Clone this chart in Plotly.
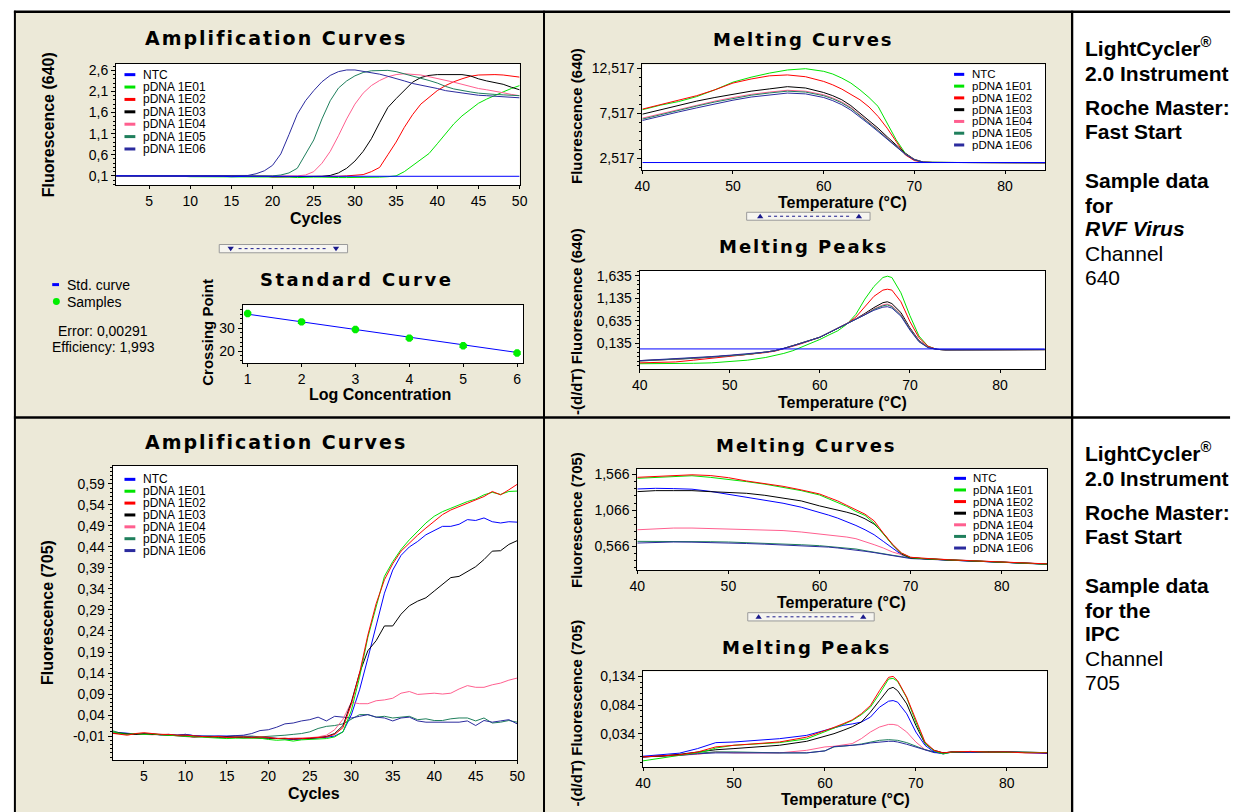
import plotly.graph_objects as go

W, H = 1243, 812
FONT = "Liberation Sans, Arial, sans-serif"
TFONT = "DejaVu Sans, Verdana, sans-serif"
BEIGE = "#ece9d8"

# ---------------- data ----------------
SERIES = ["NTC", "pDNA 1E01", "pDNA 1E02", "pDNA 1E03", "pDNA 1E04", "pDNA 1E05", "pDNA 1E06"]
COLORS = ["#0000ff", "#00e400", "#ff0000", "#000000", "#ff5f8f", "#1f7f5c", "#2b2b9e"]

CYCLES = list(range(1, 51))

AMP640_NTC = [0.10, 0.10, 0.10, 0.10, 0.10, 0.10, 0.10, 0.10, 0.10, 0.09,
              0.09, 0.09, 0.09, 0.09, 0.08, 0.09, 0.09, 0.09, 0.09, 0.09,
              0.09, 0.09, 0.09, 0.09, 0.09, 0.09, 0.09, 0.09, 0.09, 0.09,
              0.09, 0.09, 0.09, 0.09, 0.09, 0.09, 0.09, 0.09, 0.09, 0.09,
              0.09, 0.09, 0.09, 0.09, 0.09, 0.10, 0.09, 0.09, 0.09, 0.09]
AMP640_E01 = [0.10, 0.10, 0.10, 0.10, 0.10, 0.10, 0.10, 0.10, 0.09, 0.08,
              0.08, 0.08, 0.08, 0.08, 0.07, 0.08, 0.08, 0.08, 0.08, 0.07,
              0.07, 0.07, 0.06, 0.07, 0.07, 0.07, 0.06, 0.06, 0.06, 0.06,
              0.06, 0.07, 0.07, 0.08, 0.10, 0.20, 0.35, 0.48, 0.63, 0.86,
              1.10, 1.33, 1.52, 1.68, 1.82, 1.92, 2.01, 2.09, 2.17, 2.24]
AMP640_E02 = [0.10, 0.10, 0.10, 0.10, 0.10, 0.10, 0.10, 0.10, 0.10, 0.09,
              0.09, 0.10, 0.10, 0.09, 0.09, 0.09, 0.09, 0.09, 0.09, 0.08,
              0.08, 0.08, 0.08, 0.09, 0.09, 0.09, 0.09, 0.09, 0.10, 0.11,
              0.13, 0.20, 0.30, 0.60, 0.90, 1.25, 1.55, 1.80, 1.96, 2.12,
              2.24, 2.33, 2.40, 2.46, 2.49, 2.50, 2.50, 2.49, 2.47, 2.44]
AMP640_E03 = [0.10, 0.10, 0.10, 0.10, 0.10, 0.10, 0.10, 0.10, 0.10, 0.09,
              0.09, 0.09, 0.09, 0.09, 0.09, 0.09, 0.09, 0.09, 0.09, 0.08,
              0.08, 0.08, 0.09, 0.09, 0.09, 0.09, 0.11, 0.17, 0.28, 0.45,
              0.68, 0.98, 1.36, 1.72, 1.93, 2.13, 2.32, 2.43, 2.48, 2.50,
              2.50, 2.50, 2.50, 2.47, 2.40, 2.35, 2.31, 2.27, 2.20, 2.14]
AMP640_E04 = [0.10, 0.10, 0.10, 0.10, 0.10, 0.10, 0.10, 0.10, 0.10, 0.09,
              0.09, 0.09, 0.09, 0.09, 0.09, 0.09, 0.09, 0.09, 0.09, 0.09,
              0.09, 0.09, 0.10, 0.12, 0.20, 0.40, 0.68, 1.05, 1.45, 1.80,
              2.06, 2.24, 2.36, 2.45, 2.50, 2.52, 2.51, 2.49, 2.45, 2.41,
              2.37, 2.32, 2.27, 2.22, 2.17, 2.14, 2.11, 2.07, 2.03, 2.00]
AMP640_E05 = [0.10, 0.10, 0.10, 0.10, 0.10, 0.10, 0.10, 0.10, 0.10, 0.09,
              0.09, 0.09, 0.09, 0.09, 0.09, 0.09, 0.09, 0.09, 0.10, 0.10,
              0.12, 0.17, 0.28, 0.60, 0.95, 1.45, 1.88, 2.18, 2.35, 2.47,
              2.55, 2.59, 2.60, 2.60, 2.57, 2.52, 2.47, 2.42, 2.36, 2.30,
              2.22, 2.16, 2.12, 2.09, 2.06, 2.04, 2.03, 2.02, 2.01, 2.00]
AMP640_E06 = [0.10, 0.10, 0.10, 0.10, 0.10, 0.10, 0.10, 0.10, 0.10, 0.10,
              0.10, 0.10, 0.10, 0.10, 0.10, 0.10, 0.11, 0.15, 0.22, 0.35,
              0.62, 1.08, 1.56, 1.88, 2.12, 2.33, 2.48, 2.57, 2.61, 2.61,
              2.58, 2.55, 2.51, 2.46, 2.41, 2.35, 2.29, 2.25, 2.22, 2.17,
              2.12, 2.09, 2.07, 2.04, 2.01, 2.00, 1.99, 1.97, 1.96, 1.95]

STD_LOGC = [1, 2, 3, 4, 5, 6]
STD_LINE = [36.0, 32.7, 29.5, 26.0, 22.7, 19.5]
STD_SAMPLES = [36.3, 32.7, 29.4, 25.7, 22.4, 19.3]

T_MC640 = [40, 42, 44, 46, 48, 50, 52, 54, 56, 58, 60, 61, 62, 63, 64, 65, 66, 67, 68, 69,
           70, 71, 72, 74, 76, 78, 80, 82, 84.5]
MC640_NTC = [2.04, 2.04, 2.04, 2.04, 2.04, 2.04, 2.04, 2.04, 2.04, 2.04, 2.04, 2.04, 2.04, 2.04, 2.04,
             2.04, 2.04, 2.04, 2.04, 2.04, 2.04, 2.04, 2.04, 2.04, 2.04, 2.04, 2.04, 2.04, 2.04]
MC640_E01 = [7.89, 8.40, 8.80, 9.35, 10.10, 10.95, 11.50, 11.95, 12.30, 12.44, 12.15, 11.85, 11.40, 10.85,
             10.10, 9.25, 8.26, 6.40, 4.55, 3.07, 2.33, 2.08, 2.05, 2.05, 2.04, 2.04, 2.03, 2.03, 2.02]
MC640_E02 = [7.96, 8.45, 8.90, 9.45, 10.10, 10.85, 11.30, 11.65, 11.75, 11.55, 11.03, 10.65, 10.18, 9.60,
             9.00, 8.20, 7.15, 5.85, 4.37, 2.89, 2.26, 2.08, 2.05, 2.05, 2.04, 2.04, 2.03, 2.03, 2.02]
MC640_E03 = [7.40, 7.90, 8.35, 8.85, 9.25, 9.60, 9.95, 10.20, 10.45, 10.30, 9.80, 9.45, 9.00, 8.35,
             7.52, 6.70, 5.85, 4.90, 4.00, 3.07, 2.40, 2.08, 2.05, 2.05, 2.04, 2.04, 2.03, 2.03, 2.02]
MC640_E04 = [6.96, 7.45, 7.95, 8.40, 8.85, 9.25, 9.60, 9.85, 10.05, 9.95, 9.55, 9.20, 8.75, 8.15,
             7.33, 6.50, 5.66, 4.75, 3.85, 3.00, 2.37, 2.08, 2.05, 2.05, 2.04, 2.04, 2.03, 2.03, 2.02]
MC640_E05 = [6.85, 7.35, 7.85, 8.30, 8.75, 9.15, 9.50, 9.75, 9.95, 9.85, 9.45, 9.10, 8.65, 8.05,
             7.25, 6.45, 5.60, 4.70, 3.80, 2.98, 2.36, 2.08, 2.05, 2.05, 2.04, 2.04, 2.03, 2.03, 2.02]
MC640_E06 = [6.70, 7.20, 7.65, 8.10, 8.55, 8.95, 9.30, 9.55, 9.74, 9.65, 9.25, 8.90, 8.45, 7.85,
             7.10, 6.30, 5.48, 4.60, 3.74, 2.95, 2.35, 2.08, 2.05, 2.05, 2.04, 2.04, 2.03, 2.03, 2.02]

T_MP640 = [40, 42, 44, 46, 48, 50, 52, 54, 55, 56, 57, 58, 59, 60, 61, 62, 63, 64, 65, 66, 67, 67.5,
           68, 69, 70, 71, 72, 73, 74, 76, 78, 80, 82, 85]
MP640_NTC = [0.01, 0.01, 0.01, 0.01, 0.01, 0.01, 0.01, 0.01, 0.01, 0.01, 0.01, 0.01, 0.01, 0.01, 0.01,
             0.01, 0.01, 0.01, 0.01, 0.01, 0.01, 0.01, 0.01, 0.01, 0.01, 0.01, 0.01, 0.01, 0.01, 0.01,
             0.01, 0.01, 0.01, 0.01]
MP640_E01 = [-0.32, -0.32, -0.315, -0.31, -0.30, -0.27, -0.24, -0.18, -0.14, -0.09, -0.03, 0.05, 0.13,
             0.22, 0.32, 0.415, 0.56, 0.78, 1.12, 1.40, 1.60, 1.63, 1.60, 1.26, 0.75, 0.30, 0.07, 0.00,
             -0.01, -0.01, -0.01, -0.01, -0.005, -0.005]
MP640_E02 = [-0.30, -0.29, -0.28, -0.24, -0.20, -0.16, -0.12, -0.07, -0.04, 0.01, 0.07, 0.13, 0.20,
             0.27, 0.37, 0.47, 0.57, 0.72, 0.95, 1.18, 1.32, 1.34, 1.32, 1.06, 0.62, 0.26, 0.07, 0.00,
             -0.01, -0.01, -0.01, -0.01, -0.005, -0.005]
MP640_E03 = [-0.25, -0.24, -0.22, -0.20, -0.17, -0.14, -0.11, -0.06, -0.03, 0.02, 0.08, 0.14, 0.20,
             0.27, 0.37, 0.47, 0.57, 0.68, 0.80, 0.93, 1.04, 1.06, 1.02, 0.82, 0.48, 0.20, 0.05, 0.00,
             -0.01, -0.01, -0.01, -0.01, -0.005, -0.005]
MP640_E04 = [-0.26, -0.24, -0.22, -0.20, -0.17, -0.14, -0.11, -0.06, -0.03, 0.02, 0.08, 0.14, 0.20,
             0.27, 0.37, 0.47, 0.57, 0.67, 0.78, 0.90, 0.99, 1.01, 0.97, 0.78, 0.46, 0.19, 0.05, 0.00,
             -0.01, -0.01, -0.01, -0.01, -0.005, -0.005]
MP640_E05 = [-0.26, -0.24, -0.22, -0.20, -0.17, -0.14, -0.11, -0.06, -0.03, 0.02, 0.08, 0.14, 0.20,
             0.27, 0.37, 0.47, 0.57, 0.67, 0.77, 0.89, 0.97, 0.99, 0.95, 0.76, 0.45, 0.18, 0.04, 0.00,
             -0.01, -0.01, -0.01, -0.01, -0.005, -0.005]
MP640_E06 = [-0.25, -0.23, -0.21, -0.19, -0.16, -0.13, -0.10, -0.06, -0.03, 0.02, 0.08, 0.14, 0.20,
             0.27, 0.37, 0.47, 0.57, 0.66, 0.76, 0.87, 0.94, 0.95, 0.92, 0.74, 0.43, 0.17, 0.04, 0.00,
             -0.01, -0.01, -0.01, -0.01, -0.005, -0.005]

AMP705_NTC = [0.000, -0.002, -0.004, -0.005, -0.004, -0.006, -0.007, -0.006, -0.008, -0.006,
              -0.009, -0.010, -0.010, -0.011, -0.010, -0.011, -0.010, -0.012, -0.013, -0.014,
              -0.016, -0.017, -0.018, -0.017, -0.016, -0.015, -0.013, -0.010,
              0.000, 0.040, 0.100, 0.175, 0.255, 0.330, 0.385, 0.420, 0.440, 0.453, 0.469,
              0.480, 0.489, 0.489, 0.494, 0.505, 0.503, 0.509, 0.500, 0.497, 0.500, 0.499]
AMP705_E01 = [0.002, -0.004, -0.006, -0.004, -0.006, -0.005, -0.007, -0.008, -0.009, -0.010,
              -0.011, -0.012, -0.013, -0.014, -0.016, -0.015, -0.015, -0.014, -0.015, -0.018,
              -0.020, -0.019, -0.022, -0.019, -0.018, -0.017, -0.016, -0.012,
              0.000, 0.050, 0.130, 0.225, 0.300, 0.370, 0.405, 0.434, 0.457, 0.477, 0.497,
              0.513, 0.524, 0.532, 0.540, 0.548, 0.554, 0.564, 0.570, 0.565, 0.572, 0.573]
AMP705_E02 = [-0.003, -0.005, -0.008, -0.004, -0.002, -0.004, -0.006, -0.006, -0.008, -0.008,
              -0.010, -0.011, -0.012, -0.011, -0.013, -0.012, -0.012, -0.013, -0.012, -0.013,
              -0.016, -0.015, -0.017, -0.016, -0.015, -0.014, -0.012, -0.006,
              0.010, 0.065, 0.140, 0.230, 0.305, 0.362, 0.400, 0.430, 0.450, 0.468, 0.485,
              0.500, 0.517, 0.528, 0.536, 0.544, 0.552, 0.560, 0.572, 0.564, 0.576, 0.589]
AMP705_E03 = [-0.004, -0.003, -0.005, -0.006, -0.005, -0.006, -0.006, -0.007, -0.009, -0.010,
              -0.012, -0.011, -0.012, -0.013, -0.012, -0.013, -0.014, -0.013, -0.015, -0.015,
              -0.016, -0.017, -0.017, -0.016, -0.016, -0.014, -0.011, -0.004,
              0.015, 0.070, 0.140, 0.193, 0.217, 0.252, 0.252, 0.280, 0.300, 0.311, 0.319,
              0.335, 0.350, 0.367, 0.370, 0.382, 0.393, 0.410, 0.430, 0.431, 0.446, 0.455]
AMP705_E04 = [-0.002, -0.004, -0.006, -0.005, -0.006, -0.007, -0.006, -0.008, -0.009, -0.011,
              -0.013, -0.012, -0.013, -0.012, -0.014, -0.013, -0.014, -0.015, -0.014, -0.015,
              -0.016, -0.016, -0.015, -0.015, -0.014, -0.012, -0.008, 0.005,
              0.030, 0.070, 0.067, 0.067, 0.074, 0.076, 0.080, 0.092, 0.096, 0.089, 0.090,
              0.092, 0.090, 0.092, 0.102, 0.110, 0.106, 0.106, 0.112, 0.116, 0.123, 0.128]
AMP705_E05 = [0.004, -0.002, -0.004, -0.006, -0.004, -0.005, -0.006, -0.007, -0.008, -0.009,
              -0.010, -0.011, -0.010, -0.012, -0.011, -0.010, -0.011, -0.010, -0.012, -0.011,
              -0.010, -0.008, -0.006, -0.004, 0.000, 0.008, 0.013, 0.015,
              0.019, 0.031, 0.041, 0.041, 0.035, 0.037, 0.033, 0.035, 0.037, 0.029, 0.031,
              0.027, 0.027, 0.031, 0.033, 0.033, 0.026, 0.033, 0.021, 0.023, 0.027, 0.023]
AMP705_E06 = [-0.002, -0.004, -0.004, -0.006, -0.005, -0.006, -0.007, -0.008, -0.008, -0.006,
              -0.009, -0.010, -0.011, -0.010, -0.011, -0.009, -0.008, -0.004, 0.003, 0.005,
              0.011, 0.019, 0.021, 0.026, 0.029, 0.035, 0.026, 0.037,
              0.035, 0.033, 0.037, 0.041, 0.035, 0.033, 0.026, 0.033, 0.035, 0.026, 0.023,
              0.023, 0.023, 0.023, 0.023, 0.026, 0.015, 0.027, 0.023, 0.026, 0.029, 0.019]

T_MC705 = [40, 42, 44, 46, 48, 50, 52, 54, 56, 58, 60, 61, 62, 63, 64, 65, 66, 67, 68, 69,
           70, 71, 72, 74, 76, 78, 80, 82, 85]
MC705_NTC = [1.363, 1.372, 1.368, 1.360, 1.330, 1.289, 1.257, 1.210, 1.165, 1.110, 1.041, 1.000, 0.958,
             0.910, 0.856, 0.796, 0.727, 0.635, 0.543, 0.451, 0.405, 0.395, 0.390, 0.375, 0.365, 0.355,
             0.345, 0.333, 0.320]
MC705_E01 = [1.511, 1.525, 1.540, 1.547, 1.525, 1.497, 1.465, 1.430, 1.390, 1.340, 1.280, 1.230, 1.179,
             1.120, 1.050, 0.995, 0.888, 0.736, 0.589, 0.470, 0.410, 0.398, 0.394, 0.378, 0.368, 0.357,
             0.348, 0.335, 0.318]
MC705_E02 = [1.525, 1.534, 1.550, 1.560, 1.550, 1.520, 1.474, 1.440, 1.400, 1.350, 1.294, 1.245, 1.197,
             1.135, 1.073, 1.013, 0.920, 0.750, 0.598, 0.474, 0.414, 0.400, 0.396, 0.380, 0.370, 0.359,
             0.350, 0.336, 0.322]
MC705_E03 = [1.326, 1.340, 1.340, 1.340, 1.326, 1.312, 1.303, 1.275, 1.240, 1.197, 1.128, 1.100, 1.073,
             1.040, 1.004, 0.948, 0.875, 0.750, 0.589, 0.460, 0.405, 0.396, 0.392, 0.376, 0.366, 0.356,
             0.347, 0.334, 0.320]
MC705_E04 = [0.796, 0.810, 0.820, 0.820, 0.815, 0.806, 0.800, 0.798, 0.785, 0.765, 0.736, 0.725, 0.713,
             0.695, 0.672, 0.635, 0.589, 0.543, 0.488, 0.451, 0.414, 0.400, 0.394, 0.378, 0.368, 0.357,
             0.348, 0.335, 0.320]
MC705_E05 = [0.635, 0.636, 0.636, 0.634, 0.630, 0.626, 0.618, 0.608, 0.598, 0.588, 0.575, 0.563, 0.552,
             0.540, 0.529, 0.506, 0.488, 0.460, 0.442, 0.423, 0.405, 0.398, 0.393, 0.377, 0.367, 0.356,
             0.347, 0.334, 0.318]
MC705_E06 = [0.612, 0.620, 0.626, 0.624, 0.620, 0.612, 0.605, 0.596, 0.585, 0.575, 0.566, 0.555, 0.543,
             0.530, 0.510, 0.497, 0.479, 0.460, 0.437, 0.414, 0.396, 0.390, 0.386, 0.374, 0.364, 0.354,
             0.345, 0.332, 0.316]

T_MP705 = [40, 42, 44, 46, 47, 48, 50, 52, 55, 58, 60, 61, 62, 63, 64, 65, 66, 67, 67.5, 68, 69,
           70, 71, 72, 73, 74, 76, 78, 80, 82, 84.5]
MP705_NTC = [-0.0053, -0.003, 0.000, 0.008, 0.0138, 0.0184, 0.0195, 0.022, 0.0253, 0.0311, 0.0398,
             0.044, 0.0485, 0.051, 0.0542, 0.0629, 0.0802, 0.0907, 0.0918, 0.089, 0.0687, 0.0369,
             0.0138, 0.0022, -0.0013, 0.002, 0.0022, 0.0022, 0.0022, 0.001, -0.0007]
MP705_E01 = [-0.0134, -0.009, -0.004, 0.001, 0.004, 0.009, 0.0138, 0.016, 0.0184, 0.025, 0.0369,
             0.043, 0.050, 0.057, 0.067, 0.0802, 0.1034, 0.1294, 0.1305, 0.125, 0.0965, 0.0542,
             0.0178, 0.004, -0.0013, 0.002, 0.003, 0.002, 0.002, 0.001, 0.001]
MP705_E02 = [-0.0065, -0.005, -0.003, 0.002, 0.006, 0.011, 0.0138, 0.016, 0.0195, 0.028, 0.0386,
             0.045, 0.0513, 0.058, 0.0687, 0.083, 0.109, 0.1323, 0.134, 0.1265, 0.0976, 0.0571,
             0.0195, 0.005, 0.0005, 0.0022, 0.003, 0.002, 0.0022, 0.0005, 0.0005]
MP705_E03 = [-0.0065, -0.005, -0.002, 0.002, 0.004, 0.006, 0.008, 0.010, 0.0138, 0.0207, 0.0294,
             0.034, 0.0398, 0.046, 0.0542, 0.0716, 0.0918, 0.112, 0.1149, 0.109, 0.086, 0.0485,
             0.0167, 0.005, 0.0005, 0.002, 0.0025, 0.002, 0.002, 0.001, 0.001]
MP705_E04 = [-0.0065, -0.005, -0.004, -0.002, 0.000, 0.0022, 0.0005, 0.001, 0.0005, 0.005, 0.0109,
             0.012, 0.0138, 0.0167, 0.0253, 0.0369, 0.0456, 0.0502, 0.0502, 0.0485, 0.0369, 0.0195,
             0.0062, 0.0022, 0.0005, 0.002, 0.0025, 0.002, 0.002, 0.001, 0.001]
MP705_E05 = [-0.0065, -0.005, -0.003, 0.000, 0.001, 0.0022, 0.0022, 0.001, 0.0005, 0.0005, 0.004,
             0.0109, 0.012, 0.0138, 0.016, 0.0195, 0.0224, 0.0236, 0.0236, 0.0224, 0.0184, 0.0121,
             0.0062, 0.0022, 0.0005, 0.002, 0.0025, 0.002, 0.002, 0.001, 0.001]
MP705_E06 = [-0.0065, -0.005, -0.004, -0.001, 0.000, 0.0005, 0.0005, 0.0005, 0.0005, 0.0005, 0.004,
             0.0115, 0.0125, 0.0138, 0.015, 0.0178, 0.0195, 0.0207, 0.0207, 0.0195, 0.0155, 0.0109,
             0.005, 0.001, 0.000, 0.002, 0.0025, 0.002, 0.002, 0.001, 0.001]

# tick values / labels
AMP640_YT = [0.1, 0.6, 1.1, 1.6, 2.1, 2.6]
AMP640_YL = ["0,1", "0,6", "1,1", "1,6", "2,1", "2,6"]
AMP_XT = [5, 10, 15, 20, 25, 30, 35, 40, 45, 50]
STD_XT = [1, 2, 3, 4, 5, 6]
STD_YT = [20, 30]
TEMP_XT = [40, 50, 60, 70, 80]
MC640_YT = [2.517, 7.517, 12.517]
MC640_YL = ["2,517", "7,517", "12,517"]
MP640_YT = [0.135, 0.635, 1.135, 1.635]
MP640_YL = ["0,135", "0,635", "1,135", "1,635"]
AMP705_YT = [-0.01, 0.04, 0.09, 0.14, 0.19, 0.24, 0.29, 0.34, 0.39, 0.44, 0.49, 0.54, 0.59]
AMP705_YL = ["-0,01", "0,04", "0,09", "0,14", "0,19", "0,24", "0,29", "0,34", "0,39", "0,44",
             "0,49", "0,54", "0,59"]
MC705_YT = [0.566, 1.066, 1.566]
MC705_YL = ["0,566", "1,066", "1,566"]
MP705_YT = [0.034, 0.084, 0.134]
MP705_YL = ["0,034", "0,084", "0,134"]

# ---------------- layout helpers ----------------
def fx(x):
    return x / W


def fy(y):
    return 1 - y / H


fig = go.Figure()
layout = dict(width=W, height=H, margin=dict(l=0, r=0, t=0, b=0, pad=0),
              paper_bgcolor="white", plot_bgcolor="white", showlegend=False,
              font=dict(family=FONT, color="black"), hovermode=False)
shapes = []
annotations = []


def rect(x0, y0, x1, y1, fill, line_color=None, lw=0, layer="below"):
    shapes.append(dict(type="rect", xref="paper", yref="paper", x0=fx(x0), x1=fx(x1),
                       y0=fy(y1), y1=fy(y0), fillcolor=fill, layer=layer,
                       line=dict(color=line_color or fill, width=lw)))


def seg(x0, y0, x1, y1, color, lw, dash="solid", layer="above"):
    shapes.append(dict(type="line", xref="paper", yref="paper", x0=fx(x0), x1=fx(x1),
                       y0=fy(y0), y1=fy(y1), layer=layer,
                       line=dict(color=color, width=lw, dash=dash)))


def tri(cx, cy, up, color):
    s = 3.2
    if up:
        pts = [(cx - s, cy + 2), (cx + s, cy + 2), (cx, cy - 2.5)]
    else:
        pts = [(cx - s, cy - 2), (cx + s, cy - 2), (cx, cy + 2.5)]
    path = "M " + " L ".join("%.5f,%.5f" % (fx(a), fy(b)) for a, b in pts) + " Z"
    shapes.append(dict(type="path", xref="paper", yref="paper", path=path,
                       fillcolor=color, line=dict(width=0), layer="above"))


def text(x, y, s, size=14, color="black", xanchor="center", angle=0, family=FONT):
    annotations.append(dict(xref="paper", yref="paper", x=fx(x), y=fy(y), text=s,
                            showarrow=False, xanchor=xanchor, yanchor="middle",
                            textangle=angle, font=dict(family=family, size=size, color=color),
                            borderpad=0))


# cell backgrounds
rect(8, 9, 542, 414.5, BEIGE)
rect(544, 9, 1077, 414.5, BEIGE)
rect(8, 416.5, 542, 812, BEIGE)
rect(544, 416.5, 1077, 812, BEIGE)

# plot panels: (left, right, top, bottom) in pixels
PANELS = [
    dict(box=(109.5, 518.3, 60, 182.3), xr=[1, 50], yr=[-0.126, 2.758], xt=AMP_XT, xl=None,
         yt=AMP640_YT, yl=AMP640_YL, ym=(0.1, 0.1)),
    dict(box=(237.6, 521.7, 302.7, 360.7), xr=[0.905, 6.11], yr=[15.0, 39.86], xt=STD_XT, xl=None,
         yt=STD_YT, yl=None, ym=(20, 2)),
    dict(box=(642.6, 1050.7, 60.7, 166.7), xr=[40, 84.43], yr=[1.227, 12.917], xt=TEMP_XT, xl=None,
         yt=MC640_YT, yl=MC640_YL, ym=(2.517, 1)),
    dict(box=(639.9, 1050.3, 268.3, 367.3), xr=[40, 84.97], yr=[-0.448, 1.746], xt=TEMP_XT, xl=None,
         yt=MP640_YT, yl=MP640_YL, ym=(0.135, 0.1)),
    dict(box=(106, 515.8, 464.3, 760), xr=[1.23, 50], yr=[-0.0676, 0.6326], xt=AMP_XT, xl=None,
         yt=AMP705_YT, yl=AMP705_YL, ym=(-0.01, 0.01)),
    dict(box=(637.5, 1052.4, 467.3, 569.3), xr=[40, 84.96], yr=[0.2301, 1.6407], xt=TEMP_XT, xl=None,
         yt=MC705_YT, yl=MC705_YL, ym=(0.566, 0.1)),
    dict(box=(643.3, 1053, 670.7, 766.7), xr=[40, 84.47], yr=[-0.024, 0.1427], xt=TEMP_XT, xl=None,
         yt=MP705_YT, yl=MP705_YL, ym=(0.034, 0.01)),
]

tickfont = dict(family=FONT, size=14, color="black")
for i, p in enumerate(PANELS, start=1):
    l, r, t, b = p["box"]
    rect(l, t, r, b, "white")
    sfx = "" if i == 1 else str(i)
    xa = dict(domain=[fx(l), fx(r)], range=p["xr"], anchor="y" + sfx, tickmode="array",
              tickvals=p["xt"], ticktext=p["xl"] or [str(v) for v in p["xt"]],
              showline=True, mirror=True, linecolor="black", linewidth=1, ticks="outside",
              ticklen=3, tickcolor="black", showgrid=False, zeroline=False, tickfont=tickfont,
              fixedrange=True)
    ya = dict(domain=[fy(b), fy(t)], range=p["yr"], anchor="x" + sfx, tickmode="array",
              tickvals=p["yt"], ticktext=p["yl"] or [str(v) for v in p["yt"]],
              showline=True, mirror=True, linecolor="black", linewidth=1, ticks="outside",
              ticklen=4, tickcolor="black", showgrid=False, zeroline=False, tickfont=tickfont,
              fixedrange=True,
              minor=dict(ticks="outside", ticklen=2, tickcolor="black", tickmode="linear",
                         tick0=p["ym"][0], dtick=p["ym"][1], showgrid=False))
    layout["xaxis" + sfx] = xa
    layout["yaxis" + sfx] = ya


def add_lines(xs, ys_list, axis_idx, order=(1, 2, 3, 4, 5, 6, 0)):
    sfx = "" if axis_idx == 1 else str(axis_idx)
    for k in order:
        fig.add_trace(go.Scatter(x=xs, y=ys_list[k], mode="lines", name=SERIES[k],
                                 line=dict(color=COLORS[k], width=1),
                                 xaxis="x" + sfx, yaxis="y" + sfx, hoverinfo="skip"))


add_lines(CYCLES, [AMP640_NTC, AMP640_E01, AMP640_E02, AMP640_E03, AMP640_E04, AMP640_E05, AMP640_E06], 1)
fig.add_trace(go.Scatter(x=STD_LOGC, y=STD_LINE, mode="lines", name="Std. curve",
                         line=dict(color="#0000ff", width=1), xaxis="x2", yaxis="y2"))
fig.add_trace(go.Scatter(x=STD_LOGC, y=STD_SAMPLES, mode="markers", name="Samples",
                         marker=dict(color="#00ee00", size=8, symbol="octagon",
                                     line=dict(width=0)), xaxis="x2", yaxis="y2"))
add_lines(T_MC640, [MC640_NTC, MC640_E01, MC640_E02, MC640_E03, MC640_E04, MC640_E05, MC640_E06], 3)
add_lines(T_MP640, [MP640_NTC, MP640_E01, MP640_E02, MP640_E03, MP640_E04, MP640_E05, MP640_E06], 4)
add_lines(CYCLES, [AMP705_NTC, AMP705_E01, AMP705_E02, AMP705_E03, AMP705_E04, AMP705_E05, AMP705_E06], 5,
          order=(0, 5, 6, 4, 3, 1, 2))
add_lines(T_MC705, [MC705_NTC, MC705_E01, MC705_E02, MC705_E03, MC705_E04, MC705_E05, MC705_E06], 6,
          order=(0, 4, 5, 6, 3, 1, 2))
add_lines(T_MP705, [MP705_NTC, MP705_E01, MP705_E02, MP705_E03, MP705_E04, MP705_E05, MP705_E06], 7,
          order=(4, 5, 6, 0, 3, 1, 2))


# legends
def legend(sym_x0, sym_x1, text_x, y0, step, size):
    for k, name in enumerate(SERIES):
        yy = y0 + k * step
        seg(sym_x0, yy, sym_x1, yy, COLORS[k], 3)
        text(text_x, yy, name, size=size, xanchor="left")


legend(118, 129, 135.3, 71, 12.45, 12)
legend(958.4, 968.7, 975.6, 70.7, 11.83, 11.5)
legend(118, 129, 135.3, 477.7, 11.93, 12)
legend(958.4, 970.5, 976.6, 476.7, 11.67, 11.5)

# standard curve side legend
seg(44.8, 282, 51.7, 282, "#0000ff", 3)
text(58.5, 282, "Std. curve", size=14, xanchor="left")
shapes.append(dict(type="circle", xref="paper", yref="paper", x0=fx(45.5), x1=fx(52.5),
                   y0=fy(302.5), y1=fy(295.5), fillcolor="#00ee00", line=dict(width=0)))
text(58.5, 299, "Samples", size=14, xanchor="left")
text(96, 329, "Error: 0,00291", size=14)
text(96.5, 345, "Efficiency: 1,993", size=14)


# titles
def title(x, y, s, size, spacing):
    text(x, y, "<span style='letter-spacing:%spx'><b>%s</b></span>" % (spacing, s),
         size=size, family=TFONT)


title(272, 34, "Amplification Curves", 19, 2)
title(353, 277, "Standard Curve", 18, 2.5)
title(806, 35.5, "Melting Curves", 18, 2)
title(806, 243.5, "Melting Peaks", 18, 2)
title(272, 440, "Amplification Curves", 19, 2)
title(808.6, 443.5, "Melting Curves", 18, 2)
title(808.6, 646.5, "Melting Peaks", 18, 2)

# axis titles
text(312, 216, "<b>Cycles</b>", 16)
text(41.3, 121, "<b>Fluorescence (640)</b>", 16, angle=-90)
text(377, 392, "<b>Log Concentration</b>", 16)
text(202, 330, "<b>Crossing Point</b>", 15, angle=-90)
text(845, 199, "<b>Temperature (°C)</b>", 16)
text(576, 113, "<b>Fluorescence (640)</b>", 15, angle=-90)
text(845, 400.7, "<b>Temperature (°C)</b>", 16)
text(576, 319, "<b>-(d/dT) Fluorescence (640)</b>", 15, angle=-90)
text(310, 793, "<b>Cycles</b>", 16)
text(40.6, 612, "<b>Fluorescence (705)</b>", 16, angle=-90)
text(844, 601.7, "<b>Temperature (°C)</b>", 16)
text(576, 519, "<b>Fluorescence (705)</b>", 15, angle=-90)
text(848, 799, "<b>Temperature (°C)</b>", 16)
text(575.5, 713, "<b>-(d/dT) Fluorescence (705)</b>", 15, angle=-90)


# scroll widgets
def widget(x0, y0, x1, y1, up, gx0, gx1):
    rect(x0, y0, x1, y1, "#f6f5f0", "#9a9a9a", 1, layer="above")
    ym = (y0 + y1) / 2
    seg(gx0 + 8, ym, gx1 - 8, ym, "#1a1a8c", 1, dash="dot")
    tri(gx0, ym, up, "#1a1a8c")
    tri(gx1, ym, up, "#1a1a8c")


widget(214, 241.7, 344, 250, False, 225.6, 332.3)
widget(748.3, 209.3, 873.3, 217.3, True, 762, 862)
widget(749.4, 611.7, 877.5, 620, True, 760.4, 866.4)

# right panel text
RX = 1090
RIGHT_TOP = [(43.5, "<b>LightCycler<sup>®</sup></b>"), (70, "<b>2.0 Instrument</b>"),
             (104.5, "<b>Roche Master:</b>"), (128, "<b>Fast Start</b>"),
             (177, "<b>Sample data</b>"), (202, "<b>for</b>"), (226, "<b><i>RVF Virus</i></b>"),
             (251, "Channel"), (275, "640")]
RIGHT_BOT = [(450, "<b>LightCycler<sup>®</sup></b>"), (477, "<b>2.0 Instrument</b>"),
             (511, "<b>Roche Master:</b>"), (535, "<b>Fast Start</b>"),
             (584, "<b>Sample data</b>"), (609, "<b>for the</b>"), (633, "<b>IPC</b>"),
             (658, "Channel"), (682, "705")]
for yy, s in RIGHT_TOP + RIGHT_BOT:
    text(RX, yy, s, size=21, xanchor="left")

# borders
seg(6, 7.8, 1238, 7.8, "black", 2.3)
seg(7, 6.7, 7, 812, "black", 2)
seg(543, 6.7, 543, 812, "black", 2)
seg(1078, 6.7, 1078, 812, "black", 2.3)
seg(6, 415.5, 1238, 415.5, "black", 2.4)

layout["shapes"] = shapes
layout["annotations"] = annotations
fig.update_layout(**layout)

fig.write_html("out.html", config={"displayModeBar": False},
               post_script="document.body.style.margin='0';document.body.style.overflow='hidden';")
